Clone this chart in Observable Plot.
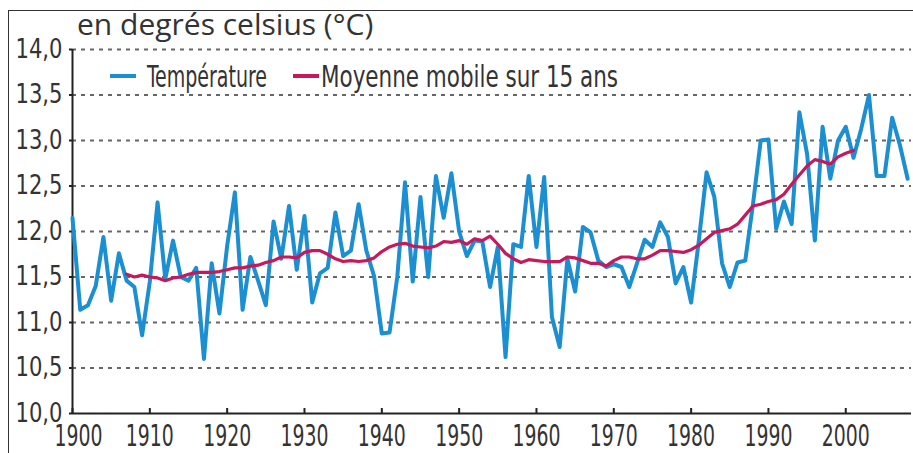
<!DOCTYPE html>
<html>
<head>
<meta charset="utf-8">
<script src="https://cdn.jsdelivr.net/npm/d3@7"></script>
<script src="https://cdn.jsdelivr.net/npm/@observablehq/plot@0.6"></script>
<style>
  body { margin: 0; background: #fff; }
  #wrap { position: relative; width: 913px; height: 453px; overflow: hidden;
          font-family: "DejaVu Sans Condensed", "DejaVu Sans", sans-serif; color: #333; }
  #frame { position: absolute; left: 8px; top: 10px; width: 940px; height: 480px;
           border-left: 1.5px solid #333; border-top: 1.5px solid #333; }
  #chart { position: absolute; left: 0; top: 0; }
  #title { position: absolute; left: 77px; top: 8.5px; font-family: "Open Sans", sans-serif;
           font-size: 30px; line-height: 1; color: #333; white-space: nowrap; }
  .sw { position: absolute; width: 26px; height: 4px; top: 74px; }
  .lt { position: absolute; top: 61.5px; font-size: 30px; line-height: 1; white-space: nowrap;
        color: #333; transform-origin: 0 50%; }
</style>
</head>
<body>
<div id="wrap">
  <div id="frame"></div>
  <div id="chart"></div>
  <div id="title">en degrés celsius (°C)</div>
  <div id="legend"></div>
</div>
<script>
// ---- data ----
const years = [1900,1901,1902,1903,1904,1905,1906,1907,1908,1909,
  1910,1911,1912,1913,1914,1915,1916,1917,1918,1919,
  1920,1921,1922,1923,1924,1925,1926,1927,1928,1929,
  1930,1931,1932,1933,1934,1935,1936,1937,1938,1939,
  1940,1941,1942,1943,1944,1945,1946,1947,1948,1949,
  1950,1951,1952,1953,1954,1955,1956,1957,1958,1959,
  1960,1961,1962,1963,1964,1965,1966,1967,1968,1969,
  1970,1971,1972,1973,1974,1975,1976,1977,1978,1979,
  1980,1981,1982,1983,1984,1985,1986,1987,1988,1989,
  1990,1991,1992,1993,1994,1995,1996,1997,1998,1999,
  2000,2001,2002,2003,2004,2005,2006,2007,2008];
const temperature = [12.15,11.14,11.19,11.40,11.94,11.24,11.76,11.46,11.39,10.86,
  11.45,12.32,11.48,11.90,11.50,11.46,11.60,10.60,11.65,11.10,
  11.84,12.43,11.14,11.72,11.46,11.19,12.11,11.70,12.28,11.58,
  12.17,11.22,11.54,11.60,12.21,11.73,11.79,12.30,11.79,11.51,
  10.88,10.89,11.50,12.54,11.45,12.38,11.50,12.61,12.15,12.64,
  12.00,11.73,11.90,11.89,11.39,11.83,10.62,11.86,11.83,12.61,
  11.83,12.60,11.06,10.73,11.70,11.34,12.05,11.99,11.68,11.61,
  11.64,11.61,11.39,11.65,11.91,11.83,12.10,11.94,11.43,11.61,
  11.22,11.90,12.65,12.38,11.65,11.39,11.66,11.68,12.30,13.00,
  13.01,12.03,12.33,12.08,13.31,12.85,11.90,13.15,12.58,13.00,
  13.15,12.81,13.13,13.50,12.61,12.61,13.25,12.95,12.58];

const maYears = [1907,1908,1909,1910,1911,1912,1913,1914,1915,1916,1917,1918,1919,
  1920,1921,1922,1923,1924,1925,1926,1927,1928,1929,
  1930,1931,1932,1933,1934,1935,1936,1937,1938,1939,
  1940,1941,1942,1943,1944,1945,1946,1947,1948,1949,
  1950,1951,1952,1953,1954,1955,1956,1957,1958,1959,
  1960,1961,1962,1963,1964,1965,1966,1967,1968,1969,
  1970,1971,1972,1973,1974,1975,1976,1977,1978,1979,
  1980,1981,1982,1983,1984,1985,1986,1987,1988,1989,
  1990,1991,1992,1993,1994,1995,1996,1997,1998,1999,
  2000,2001];
const movingAverage = [11.53,11.50,11.52,11.50,11.49,11.46,11.49,11.50,11.53,11.55,11.55,11.55,11.56,
  11.58,11.60,11.60,11.62,11.63,11.66,11.68,11.72,11.72,11.71,
  11.77,11.79,11.79,11.75,11.70,11.67,11.68,11.67,11.68,11.71,
  11.78,11.83,11.86,11.87,11.84,11.83,11.82,11.84,11.89,11.88,
  11.90,11.86,11.92,11.90,11.95,11.86,11.76,11.70,11.66,11.69,
  11.68,11.67,11.67,11.67,11.72,11.71,11.68,11.65,11.65,11.62,
  11.68,11.72,11.72,11.70,11.70,11.74,11.79,11.79,11.78,11.77,
  11.80,11.85,11.92,11.99,12.01,12.03,12.08,12.18,12.28,12.30,
  12.33,12.35,12.41,12.52,12.62,12.72,12.79,12.77,12.74,12.82,
  12.86,12.89];

const xTicks = [1900,1910,1920,1930,1940,1950,1960,1970,1980,1990,2000];
const yTicks = [10.0,10.5,11.0,11.5,12.0,12.5,13.0,13.5,14.0];
const gridValues = [10.5,11.0,11.5,12.0,12.5,13.0,13.5,14.0];
const seriesNames = ["Température", "Moyenne mobile sur 15 ans"];
const seriesColors = ["#1b8fd2", "#c8185c"];

// ---- tables ----
const tempData = years.map((y, i) => ({year: y, value: temperature[i]}));
const maData = maYears.map((y, i) => ({year: y, value: movingAverage[i]}));

const fmt = d => d.toFixed(1).replace(".", ",");

const chart = Plot.plot({
  width: 913,
  height: 453,
  marginLeft: 72,
  marginRight: 2,
  marginTop: 49,
  marginBottom: 40,
  style: {
    fontFamily: '"DejaVu Sans Condensed", "DejaVu Sans", sans-serif',
    color: "#333",
    background: "transparent",
    overflow: "visible"
  },
  x: {domain: [1900, 2008.5]},
  y: {domain: [10, 14]},
  marks: [
    Plot.ruleY(gridValues, {stroke: "#666", strokeWidth: 2, strokeDasharray: "4,5"}),
    Plot.axisY(yTicks, {tickSize: 3, tickPadding: 7, tickFormat: fmt, fontSize: 26, stroke: "#222", strokeWidth: 2, label: null}),
    Plot.axisX(xTicks, {tickSize: -5, tickPadding: 16, tickFormat: d => String(d), fontSize: 30, stroke: "#222", strokeWidth: 2, label: null}),
    Plot.ruleX([1900], {stroke: "#222", strokeWidth: 2}),
    Plot.ruleY([10], {stroke: "#222", strokeWidth: 2}),
    Plot.line(tempData, {x: "year", y: "value", stroke: seriesColors[0], strokeWidth: 4, strokeLinejoin: "round", strokeLinecap: "round"}),
    Plot.line(maData, {x: "year", y: "value", stroke: seriesColors[1], strokeWidth: 3.2, strokeLinejoin: "round", strokeLinecap: "round"})
  ]
});
document.getElementById("chart").appendChild(chart);

// condense the tick labels (reference uses a condensed face)
function condense(selector, targetWidth) {
  const texts = chart.querySelectorAll(selector);
  if (!texts.length) return;
  const ratio = targetWidth / texts[0].getComputedTextLength();
  texts.forEach(t => {
    const len = t.getComputedTextLength();
    t.setAttribute("textLength", len * ratio);
    t.setAttribute("lengthAdjust", "spacingAndGlyphs");
  });
}
condense('g[aria-label="x-axis tick label"] text', 48);
condense('g[aria-label="y-axis tick label"] text', 47);
const firstX = chart.querySelector('g[aria-label="x-axis tick label"] text');
if (firstX) firstX.setAttribute("dx", "6");

// ---- legend ----
const legend = document.getElementById("legend");
const swatchLeft = [110, 293];
const textLeft = [147, 321];
const textWidth = [120, 297];
seriesNames.forEach((name, i) => {
  const sw = document.createElement("div");
  sw.className = "sw";
  sw.style.left = swatchLeft[i] + "px";
  sw.style.background = seriesColors[i];
  legend.appendChild(sw);
  const t = document.createElement("div");
  t.className = "lt";
  t.style.left = textLeft[i] + "px";
  t.textContent = name;
  legend.appendChild(t);
  const w = t.getBoundingClientRect().width;
  t.style.transform = `scaleX(${textWidth[i] / w})`;
});
</script>
</body>
</html>
